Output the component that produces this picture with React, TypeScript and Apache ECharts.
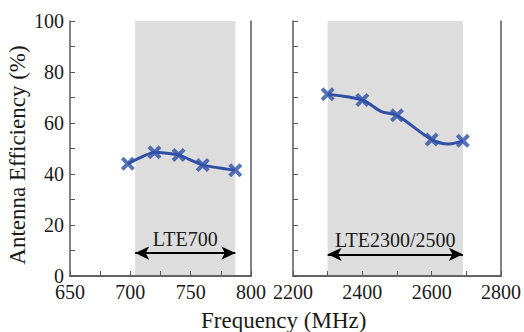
import React, { useEffect, useRef } from "react";
import * as echarts from "echarts";

// Left panel (LTE700)
const leftMarkerX = [698, 720, 740, 760, 787];
const leftMarkerY = [44, 48.5, 47.5, 43.5, 41.5];
const leftLineX = [698, 720, 740, 760, 787];
const leftLineY = [44, 48.5, 47.5, 43.5, 41.5];
const leftBand = [704, 787];
const leftBandLabel = "LTE700";
const leftArrowY = 9;

// Right panel (LTE2300/2500)
const rightMarkerX = [2300, 2400, 2500, 2600, 2690];
const rightMarkerY = [71.3, 69, 63, 53.5, 53];
const rightLineX = [2300, 2400, 2455, 2500, 2600, 2650, 2690];
const rightLineY = [71.3, 69, 64.5, 63, 53.5, 51.8, 53];
const rightBand = [2300, 2690];
const rightBandLabel = "LTE2300/2500";
const rightArrowY = 8.5;

const yTitle = "Antenna Efficiency (%)";
const xTitle = "Frequency (MHz)";

const FONT = "'Liberation Serif', 'Times New Roman', serif";
const BLUE = "#3050a8";
const FRAME = "#5a5a5a";
const SHADE = "#dddddd";
const XSYM =
  "path://M0,2 L2,0 L5,3 L8,0 L10,2 L7,5 L10,8 L8,10 L5,7 L2,10 L0,8 L3,5 Z";

const zip = (xs: number[], ys: number[]) => xs.map((x, i) => [x, ys[i]]);

export default function App() {
  const ref = useRef<HTMLDivElement>(null);
  useEffect(() => {
    if (!ref.current) return;
    const chart = echarts.init(ref.current, null, { renderer: "svg" });

    const axisLine = { show: true, lineStyle: { color: FRAME, width: 1.5 } };
    const tick = { show: true, inside: true, length: 5, lineStyle: { color: FRAME, width: 1 } };
    const minor = { show: true, splitNumber: 2, length: 5, lineStyle: { color: FRAME, width: 1 } };
    const label = {
      color: "#1a1a1a",
      fontFamily: FONT,
      fontSize: 20,
      margin: 6,
      hideOverlap: false,
      showMinLabel: true,
      showMaxLabel: true,
      formatter: (v: number) => String(v),
    };

    const xBottom = (grid: number, min: number, max: number, interval: number) => ({
      type: "value",
      gridIndex: grid,
      min,
      max,
      interval,
      position: "bottom",
      axisLine,
      axisTick: tick,
      minorTick: minor,
      splitLine: { show: false },
      axisLabel: label,
      z: 10,
    });
    const xTop = (grid: number, min: number, max: number) => ({
      type: "value",
      gridIndex: grid,
      min,
      max,
      position: "top",
      axisLine,
      axisTick: { show: false },
      splitLine: { show: false },
      axisLabel: { show: false },
      z: 10,
    });
    const yLeft = (grid: number, showLabels: boolean, name?: string) => ({
      type: "value",
      gridIndex: grid,
      min: 0,
      max: 100,
      interval: 20,
      position: "left",
      axisLine,
      axisTick: tick,
      minorTick: minor,
      splitLine: { show: false },
      axisLabel: { ...label, show: showLabels },
      name,
      nameLocation: "middle",
      nameGap: 41,
      nameTextStyle: { fontFamily: FONT, fontSize: 23, color: "#1a1a1a", padding: [0, 13, 0, 0] },
      z: 10,
    });
    const yRight = (grid: number) => ({
      type: "value",
      gridIndex: grid,
      min: 0,
      max: 100,
      position: "right",
      axisLine,
      axisTick: { show: false },
      splitLine: { show: false },
      axisLabel: { show: false },
      z: 10,
    });

    const panel = (
      axisIdx: number,
      lineX: number[],
      lineY: number[],
      mX: number[],
      mY: number[],
      band: number[],
      bandLabel: string,
      arrowY: number,
      smooth: number
    ) => [
      {
        type: "line",
        xAxisIndex: axisIdx,
        yAxisIndex: axisIdx,
        data: zip(lineX, lineY),
        symbol: "none",
        smooth,
        lineStyle: { color: BLUE, width: 3 },
        z: 3,
        markArea: {
          silent: true,
          itemStyle: { color: SHADE },
          data: [[{ xAxis: band[0] }, { xAxis: band[1] }]],
        },
        markLine: {
          silent: true,
          symbol: ["arrow", "arrow"],
          symbolSize: [10, 14],
          lineStyle: { color: "#000", width: 2, type: "solid" },
          label: {
            show: true,
            position: "middle",
            formatter: bandLabel,
            fontFamily: FONT,
            fontSize: 20,
            color: "#1a1a1a",
            distance: 4,
          },
          data: [[{ coord: [band[0], arrowY] }, { coord: [band[1], arrowY] }]],
        },
      },
      {
        type: "scatter",
        xAxisIndex: axisIdx,
        yAxisIndex: axisIdx,
        data: zip(mX, mY),
        symbol: XSYM,
        symbolSize: 14,
        itemStyle: { color: BLUE },
        z: 4,
      },
    ];

    chart.setOption({
      animation: false,
      backgroundColor: "#fff",
      title: {
        text: xTitle,
        left: 196,
        top: 304,
        textStyle: { fontFamily: FONT, fontSize: 23, fontWeight: "normal", color: "#1a1a1a" },
      },
      grid: [
        { left: 70, top: 21, width: 181, height: 255 },
        { left: 293, top: 21, width: 211, height: 255 },
      ],
      xAxis: [
        xBottom(0, 650, 800, 50),
        xBottom(1, 2200, 2800, 200),
        xTop(0, 650, 800),
        xTop(1, 2200, 2800),
      ],
      yAxis: [yLeft(0, true, yTitle), yLeft(1, false), yRight(0), yRight(1)],
      series: [
        ...panel(0, leftLineX, leftLineY, leftMarkerX, leftMarkerY, leftBand, leftBandLabel, leftArrowY, 0.15),
        ...panel(1, rightLineX, rightLineY, rightMarkerX, rightMarkerY, rightBand, rightBandLabel, rightArrowY, 0.3),
      ],
    });
    return () => chart.dispose();
  }, []);
  return (
    <div
      ref={ref}
      style={{ position: "fixed", left: 0, top: 0, width: 524, height: 332 }}
    />
  );
}
